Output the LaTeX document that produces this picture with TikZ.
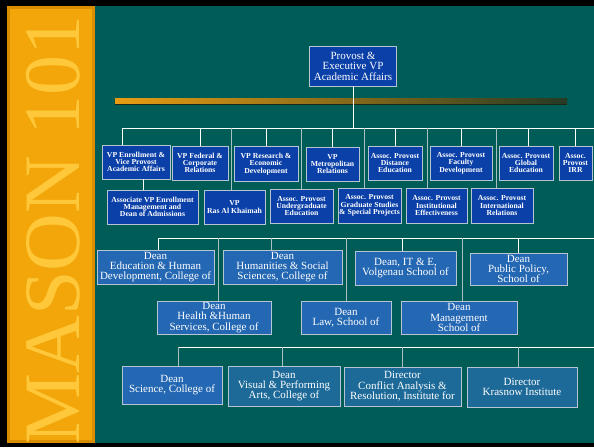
\documentclass[tikz,border=0pt]{standalone}
\usepackage{fontspec}
\setmainfont{Liberation Serif}
\definecolor{bggreen}{HTML}{005C57}
\definecolor{goldedge}{HTML}{D98E00}
\definecolor{gold}{HTML}{F2A60A}
\definecolor{goldtext}{HTML}{FFC83A}
\definecolor{navy}{HTML}{0A40A8}
\definecolor{deanblue}{HTML}{2467B3}
\definecolor{tealblue}{HTML}{1D6A99}
\definecolor{boxedge}{HTML}{B4C6D2}
\definecolor{linkgray}{HTML}{A9C0C0}
\definecolor{barorange}{HTML}{E99C12}
\definecolor{barmid}{HTML}{C08A1C}
\definecolor{bardark}{HTML}{263A24}

\begin{document}
\begin{tikzpicture}[x=1pt,y=-1pt,
    box/.style={draw=boxedge, line width=0.8pt, fill=navy, text=white, align=center,
        inner sep=0pt, font=\fontsize{7.7}{7.3}\selectfont\bfseries},
    dean/.style={box, fill=deanblue, font=\fontsize{11}{10.4}\selectfont},
    link/.style={draw=white, line width=0.8pt},
    dimlink/.style={draw=linkgray, line width=0.8pt}]
    \useasboundingbox (0,0) rectangle (594,447);

    % frame and gold band
    \fill[black] (0,0) rectangle (594,447);
    \fill[bggreen] (95,6) rectangle (594,443);
    \fill[goldedge] (7,6) rectangle (95,443);
    \fill[gold] (10,9) rectangle (92,440);
    \node[rotate=90, text=goldtext, font=\fontsize{80}{80}\selectfont] (mason) at (53,230) {MASON 101};

    % bar
    \fill[bardark!70!black] (115,101) rectangle (567,105);
    \shade[left color=barorange, middle color=barmid, right color=bardark] (115,98) rectangle (567,103);

    \node[box, font=\fontsize{11}{10.4}\selectfont, minimum width=87, minimum height=40] (P0) at (353,66) {Provost \&\\Executive VP\\Academic Affairs};

    \coordinate (b1) at (122,128);
    \coordinate (b1e) at (594,128);
    \draw[link] (P0.south) -- (P0.south |- b1);
    \draw[link] (b1) -- (b1e);

    \node[box, minimum width=68, minimum height=34] (V1) at (136,162) {VP Enrollment \&\\Vice Provost\\Academic Affairs};
    \draw[link] (b1) -- (b1 |- V1.north);
    \node[box, minimum width=56, minimum height=34] (V2) at (200,163) {VP Federal \&\\Corporate\\Relations};
    \draw[link] (V2.north) -- (V2.north |- b1);
    \node[box, minimum width=64, minimum height=35] (V3) at (266,164) {VP Research \&\\Economic\\Development};
    \draw[link] (V3.north) -- (V3.north |- b1);
    \node[box, minimum width=53, minimum height=34] (V4) at (332.5,164) {VP\\Metropolitan\\Relations};
    \draw[link] (V4.north) -- (V4.north |- b1);
    \node[box, minimum width=54, minimum height=34] (A1) at (395,163) {Assoc. Provost\\Distance\\Education};
    \draw[link] (A1.north) -- (A1.north |- b1);
    \node[box, minimum width=62, minimum height=34] (A2) at (461,163) {Assoc. Provost\\Faculty\\Development};
    \draw[link] (A2.north) -- (A2.north |- b1);
    \node[box, minimum width=54, minimum height=34] (A3) at (526,163) {Assoc. Provost\\Global\\Education};
    \draw[link] ([xshift=2]A3.north) -- ([xshift=2]A3.north |- b1);
    \node[box, minimum width=33, minimum height=34] (A4) at (575.5,163) {Assoc.\\Provost\\IRR};
    \draw[link] (A4.north) -- (A4.north |- b1);

    \node[box, minimum width=91, minimum height=34] (V5) at (152.5,207) {Associate VP Enrollment\\Management and\\Dean of Admissions};
    \draw[link] ([xshift=7]V1.south) -- ([xshift=7]V1.south |- V5.north);
    \node[box, minimum width=61, minimum height=34] (V6) at (234.5,207) {VP\\Ras Al Khaimah};
    \draw[dimlink] ([xshift=-3.5]V6.north) -- ([xshift=-3.5]V6.north |- b1);
    \node[box, minimum width=63, minimum height=34] (A5) at (301.5,206) {Assoc. Provost\\Undergraduate\\Education};
    \draw[dimlink] (A5.north) -- (A5.north |- b1);
    \node[box, minimum width=63, minimum height=35] (A6) at (369.5,205.5) {Assoc. Provost\\Graduate Studies\\\& Special Projects};
    \draw[dimlink] ([xshift=-5.5]A6.north) -- ([xshift=-5.5]A6.north |- b1);
    \node[box, minimum width=61, minimum height=35] (A7) at (436.5,205.5) {Assoc. Provost\\Institutional\\Effectiveness};
    \draw[dimlink] ([xshift=-9.5]A7.north) -- ([xshift=-9.5]A7.north |- b1);
    \node[box, minimum width=62, minimum height=35] (A8) at (502,205.5) {Assoc. Provost\\International\\Relations};
    \draw[dimlink] ([xshift=-6]A8.north) -- ([xshift=-6]A8.north |- b1);

    % deans
    \coordinate (b2) at (158,238);
    \coordinate (b2e) at (594,238);
    \draw[link] (b2) -- (b2e);

    \node[dean, minimum width=117, minimum height=34] (D1) at (155.5,267) {Dean\\Education \& Human\\Development, College of};
    \draw[link] (b2) -- (b2 |- D1.north);
    \node[dean, minimum width=119, minimum height=34] (D2) at (282.5,267) {Dean\\Humanities \& Social\\Sciences, College of};
    \draw[dimlink] ([xshift=-11.5]D2.north) -- ([xshift=-11.5]D2.north |- b2);
    \node[dean, minimum width=101, minimum height=34] (D3) at (405.5,268) {Dean, IT \& E,\\Volgenau School of};
    \draw[link] ([xshift=-3.5]D3.north) -- ([xshift=-3.5]D3.north |- b2);
    \node[dean, minimum width=97, minimum height=32] (D4) at (518.5,269) {Dean\\Public Policy,\\School of};
    \draw[link] (D4.north) -- (D4.north |- b2);

    \node[dean, minimum width=114, minimum height=33] (D5) at (214,317.5) {Dean\\Health \&Human\\Services, College of};
    \draw[dimlink] ([xshift=4]D5.north) -- ([xshift=4]D5.north |- b2);
    \node[dean, minimum width=90, minimum height=33] (D6) at (346,317.5) {Dean\\Law, School of};
    \draw[dimlink] (D6.north) -- (D6.north |- b2);
    \node[dean, minimum width=116, minimum height=33] (D7) at (459,317.5) {Dean\\Management\\School of};
    \draw[dimlink] ([xshift=3]D7.north) -- ([xshift=3]D7.north |- b2);

    \coordinate (b3) at (178,347);
    \coordinate (b3e) at (594,347);
    \draw[link] (b3) -- (b3e);

    \node[dean, minimum width=100, minimum height=38] (D8) at (172,385) {Dean\\Science, College of};
    \draw[dimlink] (b3) -- (b3 |- D8.north);
    \node[dean, fill=tealblue, minimum width=112, minimum height=40] (D9) at (284,386) {Dean\\Visual \& Performing\\Arts, College of};
    \draw[dimlink] ([xshift=-2]D9.north) -- ([xshift=-2]D9.north |- b3);
    \node[dean, fill=tealblue, minimum width=117, minimum height=39] (R1) at (402.5,386.5) {Director\\Conflict Analysis \&\\Resolution, Institute for};
    \draw[dimlink] (R1.north) -- (R1.north |- b3);
    \node[dean, fill=tealblue, minimum width=110, minimum height=40] (R2) at (522,387) {Director\\Krasnow Institute};
    \draw[dimlink] ([xshift=-4]R2.north) -- ([xshift=-4]R2.north |- b3);
\end{tikzpicture}
\end{document}
